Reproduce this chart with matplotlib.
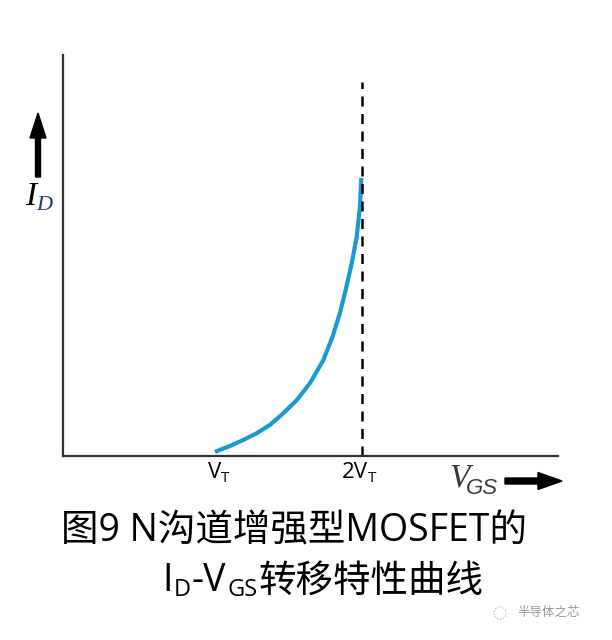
import matplotlib
matplotlib.use('agg')
import matplotlib.pyplot as plt
from matplotlib import transforms
from matplotlib.patches import FancyArrow, Circle

plt.rcParams['font.family'] = ['Noto Sans CJK SC', 'DejaVu Sans']

# VGS in units of VT, ID relative to ID at 2VT
vgs = [1.0, 1.102, 1.193, 1.284, 1.374, 1.465, 1.556, 1.646, 1.737, 1.80,
       1.85, 1.89, 1.930, 1.964, 1.986, 1.995]
i_d = [0.015, 0.036, 0.058, 0.082, 0.112, 0.154, 0.201, 0.262, 0.345, 0.43,
       0.515, 0.60, 0.693, 0.789, 0.897, 1.0]
tick_pos = [1, 2]
tick_main = ['V', '2V']
title_1 = '图9 N沟道增强型MOSFET的'
title_2 = [('I', 0), ('D', 1), ('-V', 0), ('GS', 1), ('转移特性曲线', 0)]
watermark = '半导体之芯'

fig = plt.figure(figsize=(6.12, 6.4), dpi=100)
ax = fig.add_axes([63/612, 1 - 456/640, 495/612, 401/640])
ax.plot(vgs, i_d, color='#1a9bd0', lw=3, solid_capstyle='butt', solid_joinstyle='round')
ax.axvline(2.0, ymin=0, ymax=(456-82)/401, color='black', lw=1.8, ls=(0, (4, 3)))
ax.set_xlim(-0.034, 3.333)
ax.set_ylim(0, 1.442)
for s in ['top', 'right']:
    ax.spines[s].set_visible(False)
for s in ['left', 'bottom']:
    ax.spines[s].set_color('#333333')
    ax.spines[s].set_linewidth(1.6)
ax.set_xticks([])
ax.set_yticks([])

trans = transforms.blended_transform_factory(ax.transData, fig.transFigure)
for x, lab in zip(tick_pos, tick_main):
    ax.text(x + 0.04, 1 - 472/640, lab, transform=trans,
            ha='right', va='center', fontsize=16, family='Open Sans')
    ax.text(x + 0.04, 1 - 478/640, 'T', transform=trans,
            ha='left', va='center', fontsize=11, family='Open Sans')

# axis labels with arrows
fig.text(25/612, 1 - 197/640, 'I', fontsize=24, style='italic', family='Liberation Serif',
         ha='left', va='center')
fig.text(36/612, 1 - 206/640, 'D', fontsize=16, style='italic', family='Liberation Serif',
         ha='left', va='center', color='#1f3a6e')
fig.patches.append(FancyArrow(38/612, 1 - 177/640, 0, 64/640, width=5/612,
                   head_width=16/612, head_length=25/640, color='black',
                   transform=fig.transFigure, length_includes_head=True))

fig.text(449/612, 1 - 478/640, 'V', fontsize=24, style='italic', family='Liberation Serif',
         ha='left', va='center', color='#3d3530')
fig.text(466/612, 1 - 488/640, 'GS', fontsize=16, style='italic', family='Liberation Sans',
         ha='left', va='center', color='#3a3a3a')
fig.patches.append(FancyArrow(505/612, 1 - 481/640, 57/612, 0, width=6/640,
                   head_width=17/640, head_length=24/612, color='black',
                   transform=fig.transFigure, length_includes_head=True))

# caption
fig.text(294/612, 1 - 531/640, title_1, fontsize=27, ha='center', va='center',
         family=['Open Sans', 'Noto Sans CJK SC'])

renderer = fig.canvas.get_renderer()
x = 162
for txt, sub in title_2:
    fam = 'Noto Sans CJK SC' if txt[0] == '转' else 'Open Sans'
    t = fig.text(x/612, 1 - (590 if sub else 581)/640, txt, fontsize=17 if sub else 27,
                 ha='left', va='center', family=fam)
    x += t.get_window_extent(renderer).width + 1

fig.text(517/612, 1 - 612/640, watermark, fontsize=9, ha='left', va='center',
         color='#9a9a9a', family='Noto Sans CJK SC')
fig.patches.append(Circle((500/612, 1 - 613/640), 6/612, fill=False,
                   ec='#b0b0b0', lw=0.8, ls=':', transform=fig.transFigure))

fig.savefig('out.png', dpi=100)
